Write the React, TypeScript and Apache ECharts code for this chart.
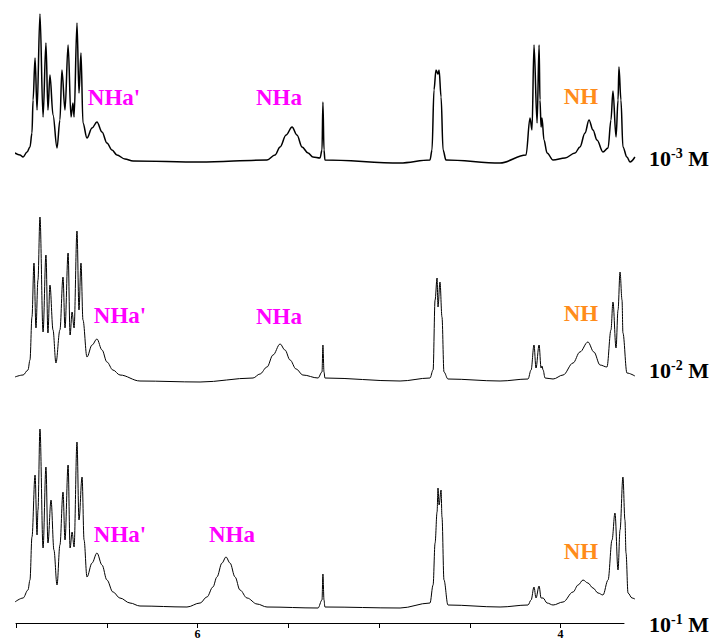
import React, { useEffect, useRef } from "react";
import * as echarts from "echarts";

// chemical shift (ppm) vs intensity (arbitrary units above each trace's baseline)
const trace1e3: [number, number][] = [
  [7.006, 9], [6.978, 7], [6.961, 5], [6.939, 10], [6.923, 15], [6.912, 29], [6.906, 62], [6.895, 104],
  [6.884, 52], [6.868, 148], [6.851, 45], [6.835, 119], [6.824, 52], [6.813, 87], [6.796, 47],
  [6.774, 14], [6.758, 42], [6.747, 92], [6.730, 52], [6.713, 117], [6.697, 45], [6.686, 59],
  [6.680, 45], [6.664, 139], [6.653, 69], [6.642, 109], [6.631, 39], [6.609, 24], [6.581, 34],
  [6.554, 40], [6.526, 30], [6.499, 19], [6.471, 12], [6.444, 7], [6.400, 3], [6.355, 1],
  [5.986, 0], [5.617, 2], [5.573, 7], [5.545, 15], [5.512, 27], [5.479, 35], [5.452, 27],
  [5.424, 15], [5.391, 9], [5.364, 5], [5.325, 4], [5.314, 12], [5.309, 60], [5.303, 12],
  [5.298, 2], [4.884, -1], [4.719, 2], [4.708, 12], [4.697, 72], [4.686, 92], [4.675, 88],
  [4.669, 92], [4.658, 65], [4.647, 12], [4.631, 2], [4.333, -1], [4.190, 7], [4.168, 44],
  [4.157, 32], [4.146, 117], [4.129, 39], [4.118, 117], [4.113, 62], [4.107, 35], [4.102, 44],
  [4.091, 22], [4.074, 9], [4.041, 2], [3.975, 4], [3.920, 9], [3.893, 15], [3.865, 29],
  [3.843, 42], [3.821, 32], [3.799, 22], [3.766, 10], [3.738, 14], [3.722, 42], [3.711, 71],
  [3.694, 25], [3.683, 62], [3.678, 95], [3.667, 62], [3.656, 15], [3.634, 5], [3.617, 0],
  [3.590, 5]
];

const trace1e2: [number, number][] = [
  [7.006, 3], [6.961, 5], [6.934, 10], [6.923, 20], [6.912, 63], [6.901, 117], [6.890, 52],
  [6.879, 100], [6.868, 163], [6.851, 48], [6.835, 125], [6.824, 47], [6.813, 95], [6.796, 50],
  [6.780, 17], [6.758, 50], [6.741, 103], [6.730, 52], [6.713, 127], [6.702, 45], [6.691, 68],
  [6.680, 52], [6.664, 149], [6.653, 70], [6.642, 117], [6.631, 60], [6.609, 23], [6.581, 35],
  [6.554, 41], [6.526, 30], [6.499, 18], [6.466, 10], [6.427, 5], [6.317, -1], [5.986, -2],
  [5.694, 2], [5.656, 6], [5.617, 13], [5.584, 25], [5.545, 36], [5.518, 30], [5.490, 20],
  [5.457, 11], [5.419, 5], [5.336, 2], [5.314, 8], [5.309, 35], [5.303, 8], [5.298, 2],
  [4.884, -1], [4.719, 2], [4.702, 10], [4.691, 80], [4.680, 102], [4.675, 73], [4.664, 98],
  [4.653, 63], [4.642, 8], [4.620, 1], [4.333, -1], [4.179, 1], [4.162, 10], [4.146, 35],
  [4.135, 12], [4.118, 35], [4.107, 12], [4.102, 14], [4.096, 10], [4.085, 2], [4.041, 1],
  [3.986, 5], [3.931, 17], [3.893, 28], [3.849, 38], [3.816, 28], [3.782, 15], [3.744, 13],
  [3.722, 50], [3.711, 78], [3.694, 32], [3.683, 70], [3.672, 108], [3.661, 80], [3.656, 47],
  [3.634, 7], [3.590, 4]
];

const trace1e1: [number, number][] = [
  [7.006, 6], [6.961, 10], [6.934, 18], [6.923, 28], [6.912, 71], [6.895, 133], [6.884, 73],
  [6.879, 98], [6.868, 179], [6.851, 60], [6.835, 141], [6.824, 65], [6.807, 108], [6.791, 58],
  [6.774, 23], [6.758, 63], [6.741, 116], [6.730, 68], [6.713, 143], [6.702, 60], [6.691, 76],
  [6.680, 61], [6.664, 166], [6.653, 88], [6.636, 131], [6.625, 68], [6.609, 31], [6.581, 45],
  [6.554, 55], [6.526, 43], [6.499, 28], [6.466, 16], [6.427, 10], [6.372, 5], [6.317, 2],
  [6.058, 1], [5.986, 5], [5.948, 11], [5.915, 21], [5.893, 31], [5.865, 45], [5.843, 51],
  [5.821, 45], [5.793, 31], [5.766, 18], [5.727, 10], [5.672, 4], [5.617, 1], [5.336, 0],
  [5.314, 8], [5.309, 34], [5.303, 8], [5.298, 1], [4.884, 0], [4.719, 5], [4.702, 23],
  [4.691, 65], [4.680, 96], [4.675, 120], [4.669, 103], [4.658, 118], [4.653, 91], [4.642, 28],
  [4.620, 3], [4.333, 1], [4.179, 3], [4.162, 8], [4.146, 21], [4.135, 10], [4.118, 22],
  [4.107, 10], [4.096, 10], [4.074, 5], [4.041, 3], [3.986, 6], [3.931, 16], [3.903, 23],
  [3.876, 28], [3.849, 25], [3.821, 20], [3.793, 15], [3.766, 13], [3.738, 28], [3.716, 68],
  [3.700, 95], [3.683, 38], [3.672, 78], [3.656, 131], [3.645, 88], [3.639, 55], [3.628, 15],
  [3.606, 10], [3.590, 9]
];

const concentrations = ["-3", "-2", "-1"];
const peakNames = ["NHa'", "NHa", "NH"];
const axisTicks = [7.0, 6.5, 6.0, 5.5, 5.0, 4.5, 4.0];
const axisLabels = [6, 4];

const traces = [trace1e3, trace1e2, trace1e1];

export default function App() {
  const ref = useRef<HTMLDivElement>(null);
  useEffect(() => {
    if (!ref.current) return;
    const chart = echarts.init(ref.current, null, { renderer: "svg" });
    const layout = [
      { base: 162, head: 152, lw: 1.5 },
      { base: 380, head: 170, lw: 1 },
      { base: 608, head: 182, lw: 1 },
    ];
    const left = 16;
    const pxPerPpm = 181.5;
    const specMax = 7.0, specMin = 3.59;
    const specWidth = (specMax - specMin) * pxPerPpm;
    const axMin = 3.65;
    const grids: any[] = layout.map((l) => ({
      left, width: specWidth, top: l.base - l.head, height: l.head + 10,
    }));
    grids.push({ left, width: (specMax - axMin) * pxPerPpm, top: 622, height: 1 });
    const xAxes: any[] = layout.map((_, i) => ({
      type: "value", gridIndex: i, min: specMin, max: specMax, inverse: true, show: false,
    }));
    xAxes.push({
      type: "value", gridIndex: 3, min: axMin, max: specMax, inverse: true,
      axisLine: { show: true, lineStyle: { color: "#000", width: 1 } },
      axisTick: { show: true, length: 5, lineStyle: { color: "#000" }, customValues: axisTicks },
      axisLabel: {
        show: true, customValues: axisLabels, margin: 5, color: "#000",
        fontFamily: "Liberation Serif", fontWeight: "bold", fontSize: 12,
      },
      splitLine: { show: false },
    });
    const yAxes: any[] = layout.map((l, i) => ({
      type: "value", gridIndex: i, min: -10, max: l.head, show: false,
    }));
    yAxes.push({ type: "value", gridIndex: 3, min: 0, max: 1, show: false });

    const labelFont = {
      fontFamily: "Liberation Serif", fontWeight: "bold", fontSize: 23,
    };
    const labelPos = [
      [[114, 97], [279, 97], [581, 96]],
      [[120, 315], [279, 316], [581, 313]],
      [[120, 534], [232, 534], [581, 551]],
    ];
    const concY = [158, 370, 624];
    const graphics: any[] = [];
    labelPos.forEach((row, t) => {
      row.forEach((p, k) => {
        graphics.push({
          type: "text", x: p[0], y: p[1],
          style: {
            text: peakNames[k], ...labelFont,
            fill: k === 2 ? "#FF8C1A" : "#FF00FF",
            align: "center", verticalAlign: "middle",
          },
        });
      });
      graphics.push({
        type: "text", x: 649, y: concY[t],
        style: {
          text: `{b|10}{s|${concentrations[t]}}{b| M}`,
          align: "left", verticalAlign: "middle",
          rich: {
            b: { ...labelFont, fontSize: 22, fill: "#000" },
            s: { ...labelFont, fontSize: 14, fill: "#000", padding: [0, 0, 9, 0] },
          },
        },
      });
    });

    chart.setOption({
      animation: false,
      grid: grids,
      xAxis: xAxes,
      yAxis: yAxes,
      series: traces.map((d, i) => ({
        type: "line", xAxisIndex: i, yAxisIndex: i, data: d, showSymbol: false,
        smooth: 0.35, smoothMonotone: "x",
        lineStyle: { color: "#000", width: layout[i].lw }, silent: true,
      })),
      graphic: graphics,
    });
    return () => chart.dispose();
  }, []);
  return (
    <div
      ref={ref}
      style={{ position: "absolute", left: 0, top: 0, width: 717, height: 642, background: "#fff" }}
    />
  );
}
